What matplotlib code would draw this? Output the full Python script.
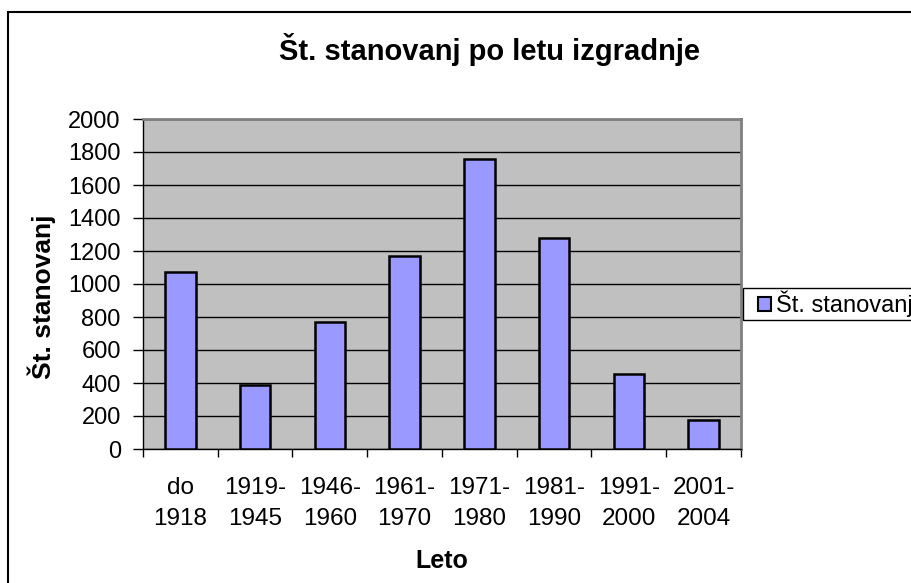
import matplotlib.pyplot as plt
from matplotlib.patches import Rectangle

# data
categories = ["do\n1918", "1919-\n1945", "1946-\n1960", "1961-\n1970",
              "1971-\n1980", "1981-\n1990", "1991-\n2000", "2001-\n2004"]
values = [1075, 388, 768, 1170, 1756, 1281, 453, 176]
y_ticks = [0, 200, 400, 600, 800, 1000, 1200, 1400, 1600, 1800, 2000]
series_name = "Št. stanovanj"

W, H = 912, 583
plt.rcParams["font.family"] = ["Liberation Sans", "DejaVu Sans"]

fig = plt.figure(figsize=(W / 100, H / 100), dpi=100)
fig.patch.set_facecolor("white")

# chart frame (runs off the right and bottom of the picture)
fig.patches.append(Rectangle((8 / W, -0.1), 1.2, (H - 12) / H + 0.1,
                             transform=fig.transFigure, fill=False,
                             edgecolor="black", lw=1.5))
# legend box, also cut off at the right edge
fig.patches.append(Rectangle((743 / W, 1 - 320 / H), 0.3, 32 / H,
                             transform=fig.transFigure, fill=False,
                             edgecolor="black", lw=1))

ax = fig.add_axes([143 / W, 1 - 449 / H, 598 / W, 330 / H])
ax.set_facecolor("#C0C0C0")

pos = list(range(len(values)))
ax.bar(pos, values, width=0.41, color="#9999FF", edgecolor="black",
       linewidth=1.8, zorder=3, label=series_name)

ax.set_xlim(-0.5, len(values) - 0.5)
ax.set_ylim(0, 2000)
ax.set_yticks(y_ticks)
ax.yaxis.grid(True, color="black", linewidth=1, zorder=1)
ax.set_axisbelow(True)

# ticks between categories, labels under the bars
ax.set_xticks([p - 0.5 for p in pos] + [len(values) - 0.5])
ax.set_xticklabels([])
ax.set_xticks(pos, minor=True)
ax.set_xticklabels(categories, minor=True, fontsize=17.5, linespacing=1.55)
ax.tick_params(axis="x", which="major", direction="out", length=6, width=1, color="black")
ax.tick_params(axis="x", which="minor", length=0, pad=20)
ax.tick_params(axis="y", direction="out", length=7, width=1, labelsize=17, pad=9)

for s in ["top", "right"]:
    ax.spines[s].set_color("#808080")
    ax.spines[s].set_linewidth(2)
for s in ["left", "bottom"]:
    ax.spines[s].set_color("black")
    ax.spines[s].set_linewidth(1)

fig.text(490 / W, 1 - 50 / H, "Št. stanovanj po letu izgradnje",
         ha="center", va="center", fontsize=21, fontweight="bold")
fig.text(42 / W, 1 - 297 / H, "Št. stanovanj", rotation=90,
         ha="center", va="center", fontsize=19, fontweight="bold")
fig.text(442 / W, 1 - 561 / H, "Leto",
         ha="center", va="center", fontsize=18, fontweight="bold")

leg = ax.legend(loc="center left", bbox_to_anchor=(758 / W, 1 - 304 / H),
                bbox_transform=fig.transFigure, fontsize=17, frameon=False,
                borderaxespad=0, handlelength=0.55, handleheight=0.55,
                handletextpad=0.2, borderpad=0)
for h in leg.legend_handles:
    h.set_linewidth(1.5)

fig.savefig("out.png", dpi=100)
